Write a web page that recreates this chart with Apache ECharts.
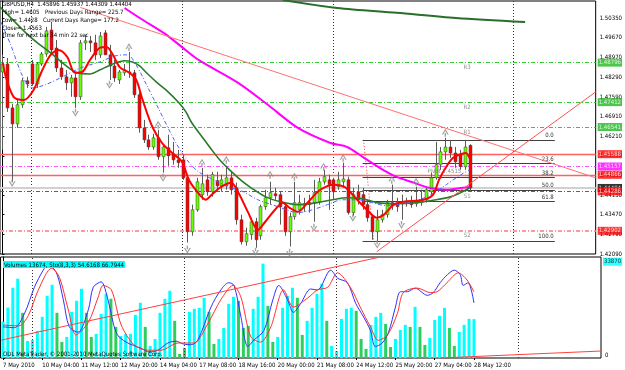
<!DOCTYPE html>
<html><head><meta charset="utf-8">
<script src="https://cdn.jsdelivr.net/npm/echarts@6/dist/echarts.min.js"></script>
<style>html,body{margin:0;padding:0;background:#fff}#c{width:625px;height:370px}</style>
</head><body><div id="c"></div>
<script>
const FONT = "'Liberation Sans Narrow','DejaVu Sans Condensed','Liberation Sans',Arial,sans-serif";

// ---- time axis ----
const tickIdx = [0,8,16,24,32,40,48,56,64,72,80,88,96];
const tickLabels = ['7 May 2010','10 May 04:00','11 May 12:00','12 May 20:00','14 May 04:00','17 May 08:00','18 May 16:00','20 May 00:00','21 May 08:00','24 May 12:00','25 May 20:00','27 May 04:00','28 May 12:00'];
const weekSeparators = [6, 37, 68, 105];

// ---- price axis ----
const priceTicks = [1.50350,1.49670,1.48970,1.48290,1.47590,1.46910,1.46210,1.45530,1.44850,1.44150,1.43470,1.42790,1.42090];

// ---- GBPUSD H4 candles (bar 0 = 7 May 2010 00:00, bar 96 = 28 May 12:00) ----
const opens = [1.4847,1.4875,1.4721,1.4665,1.4732,1.4816,1.4875,1.4805,1.4875,1.4910,
1.4994,1.4931,1.4861,1.4830,1.4809,1.4826,1.4760,1.4949,1.4956,1.4949,
1.4907,1.4984,1.4907,1.4868,1.4819,1.4844,1.4847,1.4844,1.4767,1.4651,
1.4609,1.4584,1.4616,1.4550,1.4581,1.4560,1.4539,1.4539,1.4476,1.4287,
1.4364,1.4417,1.4469,1.4427,1.4466,1.4448,1.4448,1.4476,1.4441,1.4329,
1.4252,1.4277,1.4322,1.4273,1.4375,1.4406,1.4420,1.4417,1.4375,1.4287,
1.4340,1.4364,1.4378,1.4389,1.4389,1.4392,1.4462,1.4469,1.4469,1.4445,
1.4462,1.4469,1.4354,1.4427,1.4417,1.4382,1.4340,1.4287,1.4329,1.4347,
1.4389,1.4385,1.4385,1.4389,1.4392,1.4385,1.4389,1.4399,1.4427,1.4476,
1.4522,1.4567,1.4584,1.4563,1.4557,1.4515,1.45896];
const highs = [1.4907,1.4896,1.4735,1.4749,1.4826,1.4830,1.4889,1.4882,1.4917,1.5005,
1.5022,1.4959,1.4889,1.4854,1.4837,1.4844,1.4959,1.4977,1.4973,1.4977,
1.4987,1.4994,1.4942,1.4889,1.4854,1.4875,1.4917,1.4854,1.4777,1.4679,
1.4627,1.4630,1.4644,1.4591,1.4627,1.4602,1.4574,1.4557,1.4487,1.4382,
1.4476,1.4511,1.4487,1.4497,1.4497,1.4487,1.4518,1.4497,1.4459,1.4347,
1.4301,1.4336,1.4336,1.4382,1.4434,1.4462,1.4441,1.4427,1.4389,1.4354,
1.4462,1.4417,1.4406,1.4417,1.4469,1.4476,1.4504,1.4487,1.4476,1.4497,
1.4529,1.4480,1.4441,1.4452,1.4441,1.4399,1.4347,1.4364,1.4364,1.4399,
1.4452,1.4406,1.4417,1.4406,1.4413,1.4445,1.4434,1.4441,1.4494,1.4602,
1.4584,1.4616,1.4609,1.4584,1.4574,1.4609,1.45937];
const lows = [1.4574,1.4707,1.4462,1.4651,1.4721,1.4791,1.4798,1.4791,1.4868,1.4900,
1.4907,1.4847,1.4819,1.4784,1.4760,1.4721,1.4749,1.4924,1.4917,1.4889,
1.4896,1.4907,1.4819,1.4812,1.4805,1.4833,1.4826,1.4756,1.4634,1.4598,
1.4574,1.4574,1.4539,1.4494,1.4518,1.4522,1.4511,1.4469,1.4249,1.4273,
1.4357,1.4399,1.4413,1.4410,1.4434,1.4427,1.4434,1.4417,1.4312,1.4242,
1.4238,1.4259,1.4231,1.4259,1.4364,1.4382,1.4399,1.4312,1.4273,1.4235,
1.4329,1.4347,1.4357,1.4354,1.4322,1.4382,1.4452,1.4364,1.4399,1.4434,
1.4441,1.4347,1.4343,1.4382,1.4364,1.4322,1.4259,1.4252,1.4319,1.4336,
1.4364,1.4357,1.4329,1.4375,1.4371,1.4375,1.4378,1.4389,1.4417,1.4469,
1.4504,1.4539,1.4546,1.4511,1.4504,1.4504,1.44309];
const closes = [1.4875,1.4721,1.4665,1.4732,1.4816,1.4805,1.4805,1.4875,1.4910,1.4991,
1.4924,1.4861,1.4830,1.4809,1.4826,1.4760,1.4949,1.4956,1.4949,1.4907,
1.4973,1.4907,1.4868,1.4826,1.4847,1.4854,1.4844,1.4767,1.4651,1.4609,
1.4584,1.4616,1.4550,1.4584,1.4553,1.4539,1.4529,1.4476,1.4287,1.4364,
1.4462,1.4455,1.4427,1.4487,1.4448,1.4469,1.4476,1.4434,1.4329,1.4252,
1.4280,1.4322,1.4259,1.4375,1.4406,1.4424,1.4413,1.4375,1.4287,1.4340,
1.4389,1.4389,1.4385,1.4382,1.4424,1.4462,1.4480,1.4452,1.4427,1.4469,
1.4472,1.4354,1.4417,1.4399,1.4382,1.4336,1.4287,1.4329,1.4347,1.4389,
1.4378,1.4375,1.4392,1.4392,1.4382,1.4389,1.4396,1.4434,1.4476,1.4522,
1.4567,1.4584,1.4563,1.4532,1.4515,1.4584,1.44404];

// ---- moving averages [bar, price] ----
const redMA = [[0.1,1.4878],[0.7,1.4830],[2.3,1.4760],[4.4,1.4749],[6.4,1.4784],[8.2,1.4854],[9.9,1.4907],[11.5,1.4924],[13.3,1.4900],[14.9,1.4844],[16.4,1.4847],[18,1.4889],[20,1.4931],[21.4,1.4934],[22.7,1.4907],[24.1,1.4864],[26.1,1.4844],[27.5,1.4819],[28.8,1.4749],[30.8,1.4655],[32.8,1.4598],[34.9,1.4563],[36.9,1.4532],[38.3,1.4469],[39.7,1.4434],[41.8,1.4399],[43,1.4417],[45,1.4445],[47,1.4459],[48.5,1.4424],[50.5,1.4354],[52.5,1.4294],[54,1.4322],[56,1.4364],[57.6,1.4389],[59,1.4371],[60.7,1.4357],[62.7,1.4389],[65.3,1.4434],[68.2,1.4452],[70.2,1.4445],[71.4,1.4427],[72.9,1.4399],[74.9,1.4364],[76.9,1.4336],[78.4,1.4347],[80.4,1.4382],[82.4,1.4392],[86.5,1.4399],[88.5,1.4417],[89.7,1.4469],[91.2,1.4515],[92.6,1.4546],[93.8,1.4557],[95.2,1.4563],[96,1.4545]];
const greenMA = [[-0.5,1.5075],[4.8,1.4984],[7.2,1.4949],[9.9,1.4914],[12.9,1.4871],[15.3,1.4844],[18,1.4840],[20,1.4854],[22.7,1.4875],[25.1,1.4886],[26.7,1.4882],[28.2,1.4868],[29.6,1.4844],[31.6,1.4812],[33.6,1.4784],[36.3,1.4738],[37.7,1.4707],[38.9,1.4669],[41,1.4620],[43,1.4574],[45,1.4532],[47.1,1.4497],[49.1,1.4466],[51.1,1.4441],[54,1.4410],[57.2,1.4392],[60.7,1.4382],[64.7,1.4389],[67.8,1.4399],[70.8,1.4406],[73.9,1.4403],[76.9,1.4389],[81,1.4385],[85.1,1.4389],[89.1,1.4399],[92.2,1.4410],[94.2,1.4424],[96,1.4441]];
const magentaMA = [[25.1,1.5071],[28.2,1.5036],[33.2,1.4983],[36.9,1.4934],[40.3,1.4889],[48.5,1.4808],[54.6,1.4731],[60.7,1.4651],[67.4,1.4598],[70.8,1.4584],[74.3,1.4546],[77.5,1.4511],[81,1.4479],[84.5,1.4459],[87.7,1.4441],[91.2,1.4434],[94.6,1.4441],[96,1.4444]];
const longMA = [[57.6,1.5099],[68.8,1.5071],[81,1.5054],[93.2,1.5036],[107.4,1.5022]];
const blueMA = [[-0.3,1.5022],[1.7,1.4942],[4.2,1.4830],[6.2,1.4791],[8.8,1.4802],[11.9,1.4826],[16,1.4861],[20,1.4882],[23.1,1.4903],[25.7,1.4907],[27.5,1.4871],[29.6,1.4802],[32.2,1.4714],[35.3,1.4609],[37.9,1.4539],[40.3,1.4497],[43.4,1.4469],[46.4,1.4445],[49.5,1.4427],[52.5,1.4399],[56.6,1.4375],[60.7,1.4354],[63.7,1.4364],[66.8,1.4382],[69.8,1.4399],[72.9,1.4399],[75.9,1.4389],[79,1.4378],[82,1.4385],[85.1,1.4396],[88.1,1.4417],[91.2,1.4452],[94.2,1.4487],[96,1.4504]];

// ---- trend lines [bar, price] ----
const trendDown = [[16,1.5073],[121.9,1.4476]];
const trendUp = [[76.9,1.4217],[121.9,1.4777]];

// ---- horizontal levels ----
const pivotLevels = [1.48796,1.47412,1.46541,1.45157,1.44286,1.42902];
const pivotNames = ['R3','R2','R1','Pivot 1.4515','S1','S2'];
const redLevels = [1.45588,1.44866];
const bidPrice = 1.44404;

// ---- fibonacci ----
const fibPrices = [1.4609,1.4527,1.4477,1.4434,1.4393,1.4255];
const fibNames = ['0.0','23.6','38.2','50.0','61.8','100.0'];
const fibStart = 74, fibEnd = 113.5;
const fibDiag = [[74.2,1.4609],[76.3,1.4255]];

// ---- fractals [bar, price] ----
const fractalUp = [[26,1.4934],[32,1.4662],[41,1.4529],[46,1.4539],[55,1.4487],[60,1.4480],[66,1.4515],[70,1.4546],[80,1.4469],[85,1.4462],[91,1.4634]];
const fractalDown = [[2,1.4458],[15,1.4704],[22,1.4802],[33,1.4476],[38,1.4224],[52,1.4217],[59,1.4213],[64,1.4301],[72,1.4336],[77,1.4242],[82,1.4311]];

// ---- volumes (c = cyan, g = green hatched) ----
const volumes = [12800,17760,24710,27890,15890,6000,6350,9530,14470,21890,
25770,15890,5650,7410,16240,20120,24360,15890,7410,8470,
15530,22590,20830,10940,7770,8470,8470,15180,19420,10940,
4240,6710,15890,20830,23650,13060,1410,3530,16240,17300,
17650,21180,16240,4940,6710,10590,19060,21530,20120,10590,
11300,17300,21530,33180,18360,5650,7410,17650,21890,24710,
21180,8120,13060,17650,22590,26120,13060,4240,2470,13770,
17300,17650,16590,6710,3180,11650,14470,15890,12000,3880,
6710,9880,11650,10940,18000,10940,4590,7060,13410,14830,
17650,10590,4240,9180,11650,13770,13674];
const volKind = ['c','c','c','c','g','c','c','c','c','c',
'c','g','g','c','c','c','c','g','g','c',
'c','c','g','g','c','c','c','c','c','g',
'c','c','c','c','c','g','g','g','c','c',
'c','c','g','g','c','c','c','c','g','g',
'g','c','c','c','g','g','c','c','c','c',
'g','g','c','c','c','c','g','c','c','c',
'c','c','g','g','g','c','c','c','g','g',
'c','c','c','g','c','g','g','c','c','c',
'c','g','g','c','c','c','c'];

// ---- stochastic (8,3,3) [bar, value] ----
const stochMain = [[0,28],[2.3,27],[4.4,43],[6.4,72],[8.2,91],[9.2,97],[10.9,88],[12.3,58],[13.5,28],[15.3,22],[17.4,47],[18.4,72],[20,78],[21.4,58],[23.1,21],[25.1,11],[28.2,4],[29.8,0],[31.6,2],[33.6,10],[35.3,12],[36.7,9],[38.3,8],[39.7,13],[42.4,50],[44.4,69],[46,77],[47.1,74],[48.5,39],[49.9,6],[51.1,13],[53.2,24],[55,58],[56.2,74],[58,58],[59.2,44],[60.7,54],[62.7,70],[64.1,69],[66.8,91],[68.2,82],[70.2,77],[71.9,54],[73.5,39],[74.9,24],[75.9,6],[77.3,10],[78.6,22],[80,50],[81,67],[82.4,67],[84,71],[86.5,63],[87.7,66],[89.1,77],[90.6,86],[92,91],[93.2,86],[93.8,74],[94.8,77],[96,54.6]];
const stochSignal = [[0,30],[3.2,29],[5.2,41],[7.2,69],[9.9,93],[11.5,83],[13.3,47],[14.9,19],[17.4,33],[19.4,61],[20.4,74],[22.1,69],[24.1,30],[26.7,8],[29.6,2],[32.2,2],[35.7,10],[38.9,10],[41.8,32],[44.4,58],[46.9,74],[48.5,61],[50.5,17],[52.5,11],[54.6,28],[57.2,69],[59.2,50],[62.1,60],[64.1,69],[66.2,72],[68.2,88],[70.8,72],[72.9,49],[74.9,28],[76.5,13],[78.4,19],[80.4,43],[81.6,66],[84.5,71],[87.1,66],[88.5,67],[90.5,77],[92.8,88],[94.6,80],[96,66.8]];
const subTrend1 = [[-0.3,13.3],[76.9,105.6]];
const subTrend2 = [[89.1,-6.7],[122,1.1]];

// ---------------------------------------------------------------
const XMIN = -0.5, XMAX = 121.9;
const chart = echarts.init(document.getElementById('c'), null, {renderer:'canvas'});

const candleData = opens.map((o, i) => [i, o, closes[i], lows[i], highs[i]]);
const volData = volumes.map((v, i) => ({value:[i, v], itemStyle:{color: volKind[i] === 'g' ? '#2ccf5e' : '#00ffff'}}));

function line(data, color, width, type, xi, yi, smooth, z) {
  return {type:'line', data, xAxisIndex:xi, yAxisIndex:yi, symbol:'none', showSymbol:false,
    smooth: smooth || false, clip:true, silent:true, animation:false, z: z || 6,
    lineStyle:{color, width, type: type || 'solid'}};
}
const hl = (p, color, width, type) => ({yAxis:p, lineStyle:{color, width, type}});

const tags = [
  [pivotLevels[0], '#22b822', '#fff'], [pivotLevels[1], '#22b822', '#fff'], [pivotLevels[2], '#22b822', '#fff'],
  [redLevels[0], '#ff0000', '#fff'], [pivotLevels[3], '#ff00ff', '#fff'], [redLevels[1], '#ff0000', '#fff'],
  [bidPrice, '#000000', '#fff'], [pivotLevels[4], '#ff0000', '#fff'], [pivotLevels[5], '#ff0000', '#fff']
];

const arrowPath = 'path://M5,0 L10,8 L8,8 L5,3 L2,8 L0,8 Z M4,6 L6,6 L6,11 L4,11 Z';

const option = {
  animation:false,
  backgroundColor:'#ffffff',
  grid:[
    {left:-1, top:1, width:602, height:253, show:true, borderColor:'#000', borderWidth:1, backgroundColor:'#fff'},
    {left:-1, top:257, width:602, height:101, show:true, borderColor:'#000', borderWidth:1, backgroundColor:'#fff'}
  ],
  xAxis:[
    {type:'value', gridIndex:0, min:XMIN, max:XMAX, show:false},
    {type:'value', gridIndex:1, min:XMIN, max:XMAX, splitLine:{show:false},
     axisLine:{show:false},
     axisTick:{show:true, customValues:tickIdx, length:2, lineStyle:{color:'#000'}},
     axisLabel:{customValues:tickIdx, formatter:(v)=>tickLabels[tickIdx.indexOf(v)], align:'left',
       fontSize:6, fontFamily:FONT, color:'#000', margin:4}}
  ],
  yAxis:[
    {type:'value', gridIndex:0, min:1.4209, max:1.50956, position:'right', splitLine:{show:false},
     axisLine:{show:true, lineStyle:{color:'#000'}},
     axisTick:{show:true, customValues:priceTicks, length:2, lineStyle:{color:'#000'}},
     axisLabel:{customValues:priceTicks, formatter:(v)=>v.toFixed(5), fontSize:6, fontFamily:FONT, color:'#000', margin:4}},
    {type:'value', gridIndex:1, min:0, max:35523, position:'right', splitLine:{show:false},
     axisLine:{show:true, lineStyle:{color:'#000'}},
     axisTick:{show:true, customValues:[0], length:2},
     axisLabel:{customValues:[0], formatter:'0', fontSize:6, fontFamily:FONT, color:'#000', margin:4, verticalAlign:'bottom'}},
    {type:'value', gridIndex:1, min:-6.67, max:105.6, show:false}
  ],
  graphic:[
    {type:'text', left:2, top:1.5, z:50, style:{text:'GBPUSD,H4  1.45896 1.45937 1.44309 1.44404', font:'6px '+FONT, fill:'#000'}},
    {type:'text', left:2, top:9, z:50, style:{text:'High= 1.4605', font:'6px '+FONT, fill:'#000'}},
    {type:'text', left:45, top:9, z:50, style:{text:'Previous Days Range= 225.7', font:'6px '+FONT, fill:'#000'}},
    {type:'text', left:2, top:17, z:50, style:{text:'Low= 1.4428', font:'6px '+FONT, fill:'#000'}},
    {type:'text', left:43, top:17, z:50, style:{text:'Current Days Range= 177.2', font:'6px '+FONT, fill:'#000'}},
    {type:'text', left:2, top:25, z:50, style:{text:'Close= 1.4563', font:'6px '+FONT, fill:'#000'}},
    {type:'text', left:2, top:32, z:50, style:{text:'Time for next bar 34 min 22 sec', font:'6px '+FONT, fill:'#000'}},
    {type:'text', left:3, top:261, z:50, style:{text:'Volumes 13674, Sto(8,3,3) 54.6168 66.7944', font:'6px '+FONT, fill:'#000', backgroundColor:'#00ffff', padding:[1,1,0,1]}},
    {type:'text', left:3, top:351, z:50, style:{text:'ODL MetaTrader, \u00a9 2001-2010 MetaQuotes Software Corp.', font:'6px '+FONT, fill:'#000'}}
  ],
  series:[
    {type:'line', data:[], xAxisIndex:0, yAxisIndex:0, z:1,
     markLine:{silent:true, symbol:['none','none'], animation:false, precision:6, label:{show:false},
       lineStyle:{color:'#333', width:1, type:[1,2]}, data: weekSeparators.map(v=>({xAxis:v}))}},
    {type:'line', data:[], xAxisIndex:1, yAxisIndex:1, z:1,
     markLine:{silent:true, symbol:['none','none'], animation:false, precision:6, label:{show:false},
       lineStyle:{color:'#333', width:1, type:[1,2]}, data: weekSeparators.map(v=>({xAxis:v}))}},
    {type:'line', data:[], xAxisIndex:0, yAxisIndex:0, z:3,
     markLine:{silent:true, symbol:['none','none'], animation:false, precision:6, label:{show:false}, data:[
       hl(pivotLevels[0], '#33cc33', 1, [4,2,1,2]),
       hl(pivotLevels[1], '#33cc33', 1, [4,2,1,2]),
       hl(pivotLevels[2], '#33cc33', 1, [4,2,1,2]),
       hl(redLevels[0], '#ff6060', 1.3, 'solid'),
       hl(pivotLevels[3], '#ff55ff', 1, [4,2,1,2]),
       hl(redLevels[1], '#ff6060', 1.3, 'solid'),
       hl(bidPrice, '#d0d0d0', 2, 'solid'),
       hl(pivotLevels[4], '#d83030', 1, [4,2,1,2]),
       hl(pivotLevels[5], '#ff9a9a', 2, [4,2,1,2])
     ]}},
    {type:'line', data:[], xAxisIndex:0, yAxisIndex:0, z:4,
     markLine:{silent:true, symbol:['none','none'], animation:false, precision:6,
       data: fibPrices.map((p,k)=>[{coord:[fibStart,p], lineStyle:{color:'#404040', width:1, type:'solid'},
         label:{show:true, position:'insideEndTop', formatter:fibNames[k], fontSize:6, fontFamily:FONT, color:'#333', distance:1}},
         {coord:[fibEnd,p]}])}},
    line(fibDiag, '#ff3030', 1, [1,2], 0, 0, false, 4),
    {type:'bar', data:volData, xAxisIndex:1, yAxisIndex:1, barWidth:3, silent:true, animation:false, z:2},
    line(stochMain, '#3030ff', 1, 'solid', 1, 2, 0.3, 5),
    line(stochSignal, '#ff3030', 1, 'solid', 1, 2, 0.3, 5),
    line(subTrend1, '#ff4040', 1, 'solid', 1, 2, false, 5),
    line(subTrend2, '#ff4040', 1, 'solid', 1, 2, false, 5),
    {type:'custom', data:candleData, xAxisIndex:0, yAxisIndex:0, clip:true, silent:true, animation:false, z:5,
     encode:{x:0, y:[1,2,3,4]},
     renderItem:(params, api)=>{
       const i = api.value(0), o = api.value(1), c = api.value(2), l = api.value(3), h = api.value(4);
       const po = api.coord([i,o]), pcl = api.coord([i,c]), pl = api.coord([i,l]), ph = api.coord([i,h]);
       const x = Math.round(po[0]) + 0.5;
       const up = c >= o;
       const top = Math.min(po[1], pcl[1]), bot = Math.max(po[1], pcl[1]);
       return {type:'group', children:[
         {type:'line', shape:{x1:x, y1:ph[1], x2:x, y2:pl[1]}, style:{stroke:'#5a5a5a', lineWidth:1}},
         {type:'rect', shape:{x:x-1.5, y:top, width:3, height:Math.max(bot-top,1)},
          style:{fill: up ? '#66ff00' : '#ff0000', stroke:'#404040', lineWidth:0.5}}
       ]};
     }},
    line(longMA, '#2a6e2a', 2, 'solid', 0, 0, 0.3, 6),
    line(magentaMA, '#ff00ff', 2, 'solid', 0, 0, 0.3, 6),
    line(greenMA, '#2a7a2a', 1.6, 'solid', 0, 0, 0.3, 6),
    line(blueMA, '#5060ff', 1, [4,2,1,2], 0, 0, 0.3, 6),
    line(redMA, '#ff0000', 2, 'solid', 0, 0, 0.3, 7),
    line(trendDown, '#ff7070', 1, 'solid', 0, 0, false, 7),
    line(trendUp, '#ff5050', 1, 'solid', 0, 0, false, 7),
    {type:'scatter', data:fractalUp, xAxisIndex:0, yAxisIndex:0, symbol:arrowPath, symbolSize:[7,8], silent:true, animation:false, z:8,
     itemStyle:{color:'#8c8c8c'}},
    {type:'scatter', data:fractalDown, xAxisIndex:0, yAxisIndex:0, symbol:arrowPath, symbolRotate:180, symbolSize:[7,8], silent:true, animation:false, z:8,
     itemStyle:{color:'#8c8c8c'}},
    {type:'scatter', xAxisIndex:0, yAxisIndex:0, symbolSize:0, silent:true, animation:false, z:9,
     labelLayout:{hideOverlap:false},
     data: pivotLevels.map((p,k)=>({value:[k===3 ? 90.8 : 95.5, p], name:pivotNames[k]})),
     label:{show:true, position:'bottom', distance:2, formatter:(pr)=>pr.name, fontSize:6, fontFamily:FONT, color:'#707070'}},
    {type:'scatter', xAxisIndex:0, yAxisIndex:0, symbolSize:0, silent:true, animation:false, z:20, clip:false,
     labelLayout:{hideOverlap:false},
     data: tags.map(t=>({value:[XMAX, t[0]], label:{backgroundColor:t[1], color:t[2]}})),
     label:{show:true, position:'right', distance:2, formatter:(pr)=>pr.value[1].toFixed(5), fontSize:6, fontFamily:FONT,
       padding:[1,1,0,1], lineHeight:7}},
    {type:'scatter', xAxisIndex:1, yAxisIndex:1, symbolSize:0, silent:true, animation:false, z:20, clip:false,
     data:[[XMAX, 33870]],
     label:{show:true, position:'right', distance:2, formatter:'33870', fontSize:6, fontFamily:FONT, color:'#000',
       backgroundColor:'#00ffff', padding:[1,1,0,1], lineHeight:7}}
  ]
};
chart.setOption(option);
</script></body></html>
